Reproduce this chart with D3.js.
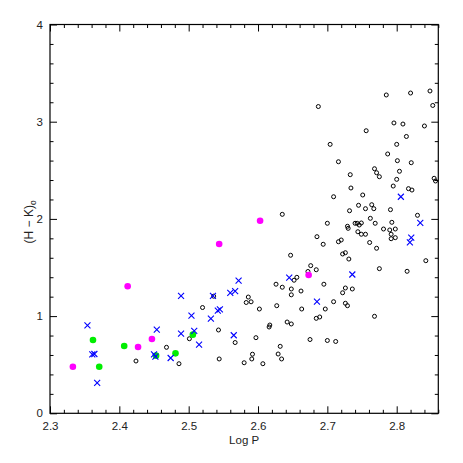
<!DOCTYPE html>
<html>
<head>
<meta charset="utf-8">
<script src="https://cdn.jsdelivr.net/npm/d3@7"></script>
<style>
  body { margin: 0; background: #fff; }
  text { font-family: "Liberation Sans", Arial, sans-serif; }
</style>
</head>
<body>
<div id="vis"></div>
<script>
// values

const xTicks = [2.3, 2.4, 2.5, 2.6, 2.7, 2.8]
const yTicks = [0, 1, 2, 3, 4]

// open black circles
const circLogP = [2.687, 2.785, 2.820, 2.848, 2.852, 2.796, 2.809, 2.840, 2.756, 2.814,
    2.704, 2.800, 2.787, 2.716, 2.801, 2.821, 2.768, 2.771, 2.775, 2.804,
    2.733, 2.800, 2.854, 2.856, 2.734, 2.795, 2.817, 2.822, 2.709, 2.751,
    2.732, 2.745, 2.755, 2.764, 2.767, 2.791, 2.635, 2.700, 2.729, 2.730,
    2.740, 2.743, 2.746, 2.749, 2.769, 2.762, 2.793, 2.781, 2.790, 2.798,
    2.792, 2.792, 2.798, 2.830, 2.744, 2.749, 2.755, 2.685, 2.720, 2.716,
    2.761, 2.694, 2.771, 2.726, 2.722, 2.731, 2.647, 2.842, 2.775, 2.815,
    2.676, 2.684, 2.672, 2.656, 2.652, 2.626, 2.635, 2.648, 2.648, 2.662,
    2.695, 2.726, 2.736, 2.722, 2.586, 2.583, 2.590, 2.709, 2.726, 2.729,
    2.627, 2.602, 2.663, 2.697, 2.684, 2.689, 2.768, 2.642, 2.648, 2.617,
    2.616, 2.567, 2.597, 2.632, 2.675, 2.700, 2.712, 2.592, 2.591, 2.629,
    2.634, 2.580, 2.607, 2.520, 2.543, 2.501, 2.468, 2.486, 2.424, 2.544,
    2.536]
const circHK = [3.156, 3.275, 3.295, 3.316, 3.167, 2.987, 2.976, 2.956, 2.907, 2.848,
    2.767, 2.767, 2.668, 2.588, 2.599, 2.578, 2.516, 2.475, 2.434, 2.490,
    2.455, 2.407, 2.418, 2.390, 2.318, 2.338, 2.311, 2.297, 2.228, 2.246,
    2.084, 2.140, 2.105, 2.146, 2.105, 2.095, 2.047, 1.955, 1.924, 1.903,
    1.955, 1.955, 1.937, 1.958, 1.955, 2.006, 1.965, 1.896, 1.886, 1.896,
    1.842, 1.796, 1.807, 2.037, 1.868, 1.842, 1.842, 1.817, 1.783, 1.765,
    1.757, 1.739, 1.698, 1.652, 1.639, 1.587, 1.626, 1.570, 1.488, 1.461,
    1.519, 1.477, 1.459, 1.399, 1.369, 1.328, 1.297, 1.279, 1.219, 1.258,
    1.328, 1.289, 1.279, 1.240, 1.196, 1.140, 1.147, 1.148, 1.132, 1.107,
    1.107, 1.073, 1.073, 1.073, 0.977, 0.991, 0.998, 0.939, 0.919, 0.908,
    0.888, 0.728, 0.778, 0.689, 0.759, 0.749, 0.739, 0.608, 0.559, 0.610,
    0.559, 0.520, 0.510, 1.088, 0.857, 0.767, 0.679, 0.510, 0.538, 0.559,
    1.205]

// blue crosses
const crossLogP = [2.354, 2.361, 2.364, 2.368, 2.454, 2.489, 2.450, 2.452, 2.474, 2.504,
    2.508, 2.515, 2.532, 2.542, 2.545, 2.489, 2.535, 2.565, 2.572, 2.560,
    2.567, 2.645, 2.685, 2.736, 2.806, 2.834, 2.821, 2.819]
const crossHK = [0.905, 0.607, 0.610, 0.312, 0.860, 0.819, 0.607, 0.582, 0.569, 1.004,
    0.847, 0.706, 0.973, 1.056, 1.070, 1.207, 1.207, 0.803, 1.366, 1.238,
    1.258, 1.395, 1.148, 1.428, 2.228, 1.958, 1.807, 1.759]

// filled green dots
const greenLogP = [2.362, 2.371, 2.407, 2.453, 2.481, 2.506]
const greenHK = [0.754, 0.479, 0.692, 0.593, 0.617, 0.809]

// filled magenta dots
const magentaLogP = [2.333, 2.412, 2.427, 2.447, 2.544, 2.603, 2.673]
const magentaHK = [0.479, 1.307, 0.682, 0.764, 1.742, 1.981, 1.423]

const W = 463, H = 463
const margin = {left: 50, top: 24.5, right: 24.7, bottom: 49.7}

let svg = d3.select('#vis').append('svg')
    .attr('width', W)
    .attr('height', H)

let xScale = d3.scaleLinear([2.3, 2.86], [margin.left, W - margin.right])
let yScale = d3.scaleLinear([0, 4], [H - margin.bottom, margin.top])

let x0 = xScale.range()[0], x1 = xScale.range()[1]
let y0 = yScale.range()[0], y1 = yScale.range()[1]

const xMinor = d3.range(2.3, 2.861, 0.02).filter(v => Math.abs(v * 10 - Math.round(v * 10)) > 1e-6)
const yMinor = d3.range(0, 4.001, 0.2).filter(v => Math.abs(v - Math.round(v)) > 1e-6)

// inward ticks on all four sides
function drawTicks(g, axisFn, scale, vals, len, labels){
    g.call(axisFn(scale).tickValues(vals).tickSizeInner(-len).tickSizeOuter(0)
        .tickFormat(labels ? d3.format('.1~f') : ''))
        .call(g => g.select('.domain').remove())
        .call(g => g.selectAll('.tick line').attr('stroke', '#000').attr('stroke-width', 1))
}

let bottomMajor = svg.append('g').attr('transform', `translate(0,${y0})`)
drawTicks(bottomMajor, d3.axisBottom, xScale, xTicks, 7, true)
bottomMajor.selectAll('.tick text')
    .attr('y', 9).attr('font-size', 11.5).attr('fill', '#222')
    .attr('font-family', '"Liberation Sans", Arial, sans-serif')
drawTicks(svg.append('g').attr('transform', `translate(0,${y0})`), d3.axisBottom, xScale, xMinor, 3.5, false)
drawTicks(svg.append('g').attr('transform', `translate(0,${y1})`), d3.axisTop, xScale, xTicks, 7, false)
drawTicks(svg.append('g').attr('transform', `translate(0,${y1})`), d3.axisTop, xScale, xMinor, 3.5, false)

let leftMajor = svg.append('g').attr('transform', `translate(${x0},0)`)
drawTicks(leftMajor, d3.axisLeft, yScale, yTicks, 7, true)
leftMajor.selectAll('.tick text')
    .attr('x', -7).attr('font-size', 11.5).attr('fill', '#222')
    .attr('font-family', '"Liberation Sans", Arial, sans-serif')
drawTicks(svg.append('g').attr('transform', `translate(${x0},0)`), d3.axisLeft, yScale, yMinor, 3.5, false)
drawTicks(svg.append('g').attr('transform', `translate(${x1},0)`), d3.axisRight, yScale, yTicks, 7, false)
drawTicks(svg.append('g').attr('transform', `translate(${x1},0)`), d3.axisRight, yScale, yMinor, 3.5, false)

svg.append('rect')
    .attr('x', x0).attr('y', y1)
    .attr('width', x1 - x0).attr('height', y0 - y1)
    .attr('fill', 'none').attr('stroke', '#000').attr('stroke-width', 1.2)

// axis titles
svg.append('text')
    .attr('x', (x0 + x1) / 2).attr('y', 444)
    .attr('text-anchor', 'middle').attr('font-size', 11.5).attr('fill', '#222')
    .text('Log P')

let yTitle = svg.append('text')
    .attr('transform', `translate(33,${(y0 + y1) / 2 + 3}) rotate(-90)`)
    .attr('text-anchor', 'middle').attr('font-size', 12).attr('fill', '#222')
yTitle.append('tspan').text('(H \u2212 K)')
yTitle.append('tspan').attr('font-size', 8.5).attr('dy', 3).text('o')

// open circles
svg.append('g').selectAll('circle')
    .data(d3.zip(circLogP, circHK)).enter()
    .append('circle')
        .attr('cx', d => xScale(d[0]))
        .attr('cy', d => yScale(d[1]))
        .attr('r', 2)
        .attr('fill', 'none')
        .attr('stroke', '#000')
        .attr('stroke-width', 1)

// filled dots
svg.append('g').selectAll('circle')
    .data(d3.zip(greenLogP, greenHK)).enter()
    .append('circle')
        .attr('cx', d => xScale(d[0]))
        .attr('cy', d => yScale(d[1]))
        .attr('r', 3.3)
        .attr('fill', '#00ee00')

svg.append('g').selectAll('circle')
    .data(d3.zip(magentaLogP, magentaHK)).enter()
    .append('circle')
        .attr('cx', d => xScale(d[0]))
        .attr('cy', d => yScale(d[1]))
        .attr('r', 3.3)
        .attr('fill', '#ff00ff')

// crosses
svg.append('g').selectAll('path')
    .data(d3.zip(crossLogP, crossHK)).enter()
    .append('path')
        .attr('transform', d => `translate(${xScale(d[0])},${yScale(d[1])})`)
        .attr('d', 'M-3,-3L3,3M-3,3L3,-3')
        .attr('stroke', '#0000ff')
        .attr('stroke-width', 1.1)
        .attr('fill', 'none')
</script>
</body>
</html>
